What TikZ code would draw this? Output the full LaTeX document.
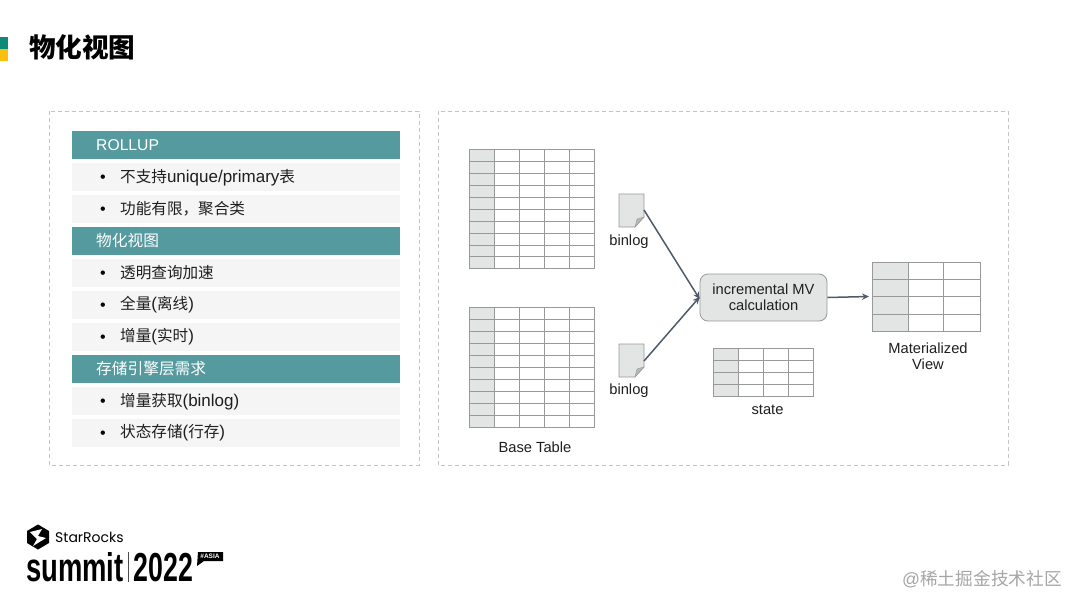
\documentclass[tikz,border=0pt]{standalone}
\usepackage{fontspec}
\setmainfont{Liberation Sans}
\newfontfamily\cjk{Noto Sans CJK SC}
\newfontfamily\logofont{Poppins}
\usetikzlibrary{arrows.meta}
\definecolor{teal1}{HTML}{559A9E}
\definecolor{rowbg}{HTML}{F5F5F5}
\definecolor{dashc}{HTML}{C4C4C4}
\definecolor{gridc}{HTML}{989A9A}
\definecolor{cellc}{HTML}{E3E4E4}
\definecolor{arrowc}{HTML}{4F5B6B}
\definecolor{accent1}{HTML}{0E8A78}
\definecolor{accent2}{HTML}{FBBF10}
\newcommand{\fs}[1]{\fontsize{#1}{#1}\selectfont}
\newcommand{\lat}[1]{{\fontsize{17}{17}\selectfont #1}}
% \gridtable{x0}{y0}{x1}{y1}{first col right}{col lines}{row lines}
\newcommand{\gridtable}[7]{%
  \fill[cellc] (#1,#2) rectangle (#5,#4);
  \foreach \cx in {#6} \draw[gridline] (\cx,#2) -- (\cx,#4);
  \foreach \cy in {#7} \draw[gridline] (#1,\cy) -- (#3,\cy);
  \draw[gridline] (#1,#2) rectangle (#3,#4);
}
\newcommand{\docicon}[2]{%
  \begin{scope}[shift={(#1,#2)}]
    \filldraw[fill=cellc,draw=gridc,line width=.7pt] (0,0) -- (25,0) -- (25,23) -- (16,33) -- (0,33) -- cycle;
    \filldraw[fill=gridc!70,draw=gridc,line width=.4pt] (25,23) -- (18,25) -- (16,33) -- cycle;
  \end{scope}
}
\tikzset{
  gridline/.style={draw=gridc,line width=.75pt},
  dashbox/.style={draw=dashc,line width=.9pt,dash pattern=on 4pt off 3pt},
  headbar/.style={fill=teal1},
  rowbar/.style={fill=rowbg},
  headtext/.style={anchor=west,inner sep=0pt,text=white,font=\fs{15.7}},
  rowtext/.style={anchor=west,inner sep=0pt,text=black!88,font=\fs{15.6}},
  bullet/.style={anchor=center,inner sep=0pt,text=black,font=\fs{16}},
  label/.style={inner sep=0pt,text=black!88,font=\fs{14.7},align=center},
  flow/.style={draw=arrowc,line width=1.5pt,-{Stealth[length=7pt,width=6.5pt]}},
}
\begin{document}
\begin{tikzpicture}[x=1pt,y=-1pt]
\useasboundingbox (0,0) rectangle (1080,608);
\fill[white] (0,0) rectangle (1080,608);
% title
\fill[accent1] (0,37) rectangle (8,49);
\fill[accent2] (0,49) rectangle (8,61);
\node[anchor=west,inner sep=0pt,font=\fs{26.6}\cjk\bfseries] (title) at (29,47) {物化视图};
% dashed panels
\draw[dashbox] (49,111) rectangle (419,465);
\draw[dashbox] (438,111) rectangle (1008,465);
% left list
\foreach \ya/\yb in {131/159,227/255,355/383} \fill[headbar] (72,\ya) rectangle (400,\yb);
\foreach \ya/\yb in {163/191,195/223,259/287,291/319,323/351,387/415,419/447} \fill[rowbar] (72,\ya) rectangle (400,\yb);
\node[headtext] (h1) at (96,145) {ROLLUP};
\node[headtext] (h2) at (96,241) {\cjk 物化视图};
\node[headtext] (h3) at (96,369) {\cjk 存储引擎层需求};
\foreach \n/\y in {b1/178.5,b2/210.5,b3/274.5,b4/306.5,b5/338.5,b6/402.5,b7/434.5}
  \node[bullet] (\n) at (103,\y) {•};
\node[rowtext] (r1) at (120,178) {{\cjk 不支持}\lat{unique/primary}{\cjk 表}};
\node[rowtext] (r2) at (120,209) {\cjk 功能有限，聚合类};
\node[rowtext] (r3) at (120,273) {\cjk 透明查询加速};
\node[rowtext] (r4) at (120,305) {{\cjk 全量}\lat{(}{\cjk 离线}\lat{)}};
\node[rowtext] (r5) at (120,337) {{\cjk 增量}\lat{(}{\cjk 实时}\lat{)}};
\node[rowtext] (r6) at (120,402) {{\cjk 增量获取}\lat{(binlog)}};
\node[rowtext] (r7) at (120,433) {{\cjk 状态存储}\lat{(}{\cjk 行存}\lat{)}};
% tables
\gridtable{469}{149}{594}{268}{494}{494,519,544,569}{161,173,185,197,209,221,233,245,256}
\gridtable{469}{307}{594}{427}{494}{494,519,544,569}{319,331,343,355,367,379,391,403,415}
\gridtable{713}{348}{813}{396}{738}{738,763,788}{360,372,384}
\gridtable{872}{262}{980}{331}{908}{908,943}{279,296,314}
% documents
\docicon{619}{194}
\docicon{619}{344}
\coordinate (d1) at (644,210);
\coordinate (d2) at (644,361);
\node[label] (l1) at (629,242) {binlog};
\node[label] (l2) at (629,390.5) {binlog};
\node[label] (l3) at (535,447) {Base Table};
\node[label] (l4) at (767.5,410) {state};
\node[label] (l5) at (928,356) {Materialized\\[1.5pt]View};
% calculation
\node[draw=gridc,fill=cellc,rounded corners=8pt,line width=.8pt,minimum width=127pt,minimum height=47pt,inner sep=0pt,label,text=black!88] (calc) at (763.5,297.5) {incremental MV\\[1.5pt]calculation};
\coordinate (mvin) at (869,296.5);
\draw[flow] (d1) -- ([yshift=-1.5pt]calc.west);
\draw[flow] (d2) -- ([yshift=.5pt]calc.west);
\draw[flow] (calc.east) -- (mvin);
% logo
\fill[black] (38,524.5) -- (49,531) -- (49,543) -- (38,549.5) -- (27,543) -- (27,531) -- cycle;
\fill[white] (30,532) -- (42,529) -- (38,536) -- (46,538) -- (33,546) -- (37,539) -- cycle;
\node[anchor=west,inner sep=0pt,font=\fs{14}\logofont] (brand) at (55,537) {StarRocks};
\node[anchor=base west,inner sep=0pt,font=\fs{40}\bfseries,xscale=.685] (summit) at (26,581) {summit};
\draw[black!70,line width=.7pt] (128.5,552) -- (128.5,582);
\node[anchor=base west,inner sep=0pt,font=\fs{40.5}\bfseries,xscale=.66] (year) at (133.5,581) {2022};
\fill[black] (198,552) -- (223,552) -- (223,561) -- (204,561) -- (197,566) -- cycle;
\node[inner sep=0pt,text=white,font=\fs{6.5}\bfseries] (asia) at (210,556.5) {\#ASIA};
% watermark
\node[anchor=east,inner sep=0pt,text=black!35,font=\fs{17.7}] (wm) at (1062,579) {@{\cjk 稀土掘金技术社区}};
\end{tikzpicture}
\end{document}
